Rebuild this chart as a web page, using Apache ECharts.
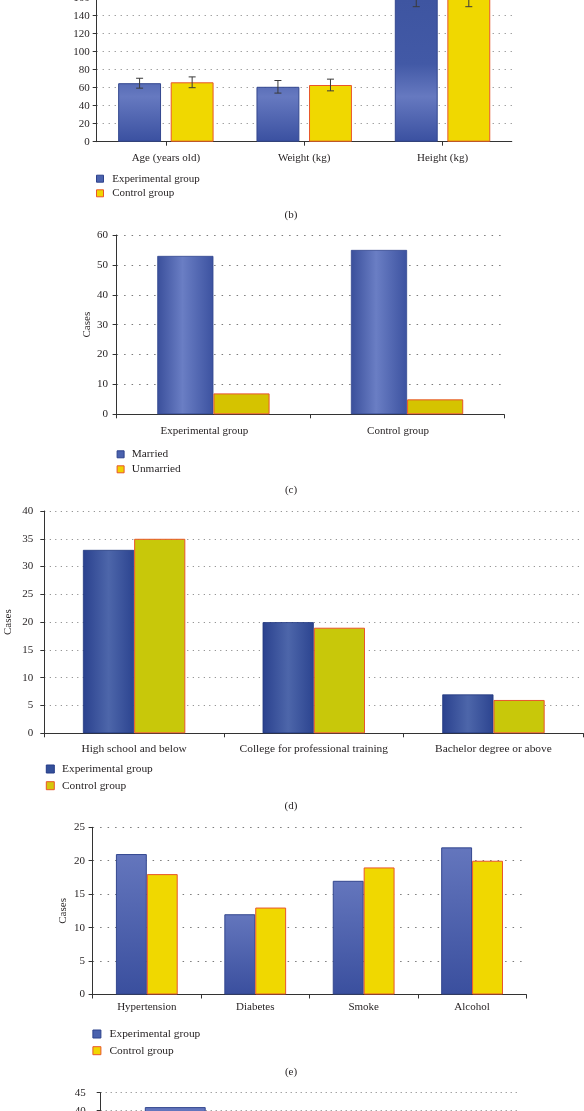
<!DOCTYPE html>
<html><head><meta charset="utf-8">
<script src="https://cdn.jsdelivr.net/npm/echarts@6/dist/echarts.min.js"></script>
<style>html,body{margin:0;padding:0;background:#fff}#c{width:584px;height:1111px}</style>
</head><body><div id="c"></div>
<script>
// ---- Panel (b) ----
const bCategories = ['Age (years old)', 'Weight (kg)', 'Height (kg)'];
const bExpMean = [65, 61, 162];
const bExpSD = [5.5, 7, 12];
const bCtrlMean = [66, 63, 163];
const bCtrlSD = [6, 6.5, 13];
const bYAxis = [0, 180, 20];
// ---- Panel (c) ----
const cCategories = ['Experimental group', 'Control group'];
const cMarried = [53, 55];
const cUnmarried = [7, 5];
const cYAxis = [0, 60, 10];
// ---- Panel (d) ----
const dCategories = ['High school and below', 'College for professional training', 'Bachelor degree or above'];
const dExp = [33, 20, 7];
const dCtrl = [35, 19, 6];
const dYAxis = [0, 40, 5];
// ---- Panel (e) ----
const eCategories = ['Hypertension', 'Diabetes', 'Smoke', 'Alcohol'];
const eExp = [21, 12, 17, 22];
const eCtrl = [18, 13, 19, 20];
const eYAxis = [0, 25, 5];
// ---- Panel (f) (only the top is visible) ----
const fCategories = ['', ''];
const fFirst = [41, '-'];
const fSecond = ['-', '-'];
const fYAxis = [0, 45, 5];

const panelLabels = ['(b)', '(c)', '(d)', '(e)'];

const FONT = 'Liberation Serif';
const TXT = '#231f20';
const AX = '#333333';
const RED = '#e8562a';
const G = echarts.graphic.LinearGradient;

function yAx(gi, rng, margin, dash, name, nameGap) {
  return {
    type: 'value', gridIndex: gi, min: rng[0], max: rng[1], interval: rng[2],
    axisLine: {show: true, lineStyle: {color: AX, width: 1}},
    axisTick: {show: true, length: 4, lineStyle: {color: AX}},
    axisLabel: {margin: margin, color: TXT, fontFamily: FONT, fontSize: 11},
    splitLine: {show: true, lineStyle: {color: '#7a7a7a', type: dash, width: 1}},
    name: name || '', nameLocation: 'middle', nameGap: nameGap || 0, nameRotate: 90,
    nameMoveOverlap: false,
    nameTextStyle: {color: TXT, fontFamily: FONT, fontSize: 11}
  };
}
function xAx(gi, data, align, margin, fs, pad) {
  return {
    type: 'category', gridIndex: gi, data: data,
    axisLine: {show: true, lineStyle: {color: AX, width: 1.2}},
    axisTick: {show: true, alignWithLabel: align, length: 4, lineStyle: {color: AX}},
    axisLabel: {margin: margin, color: TXT, fontFamily: FONT, fontSize: fs, interval: 0, padding: pad || 0},
    splitLine: {show: false}
  };
}
function legend(left, top, icon, gap, pad, fs, items) {
  return {
    orient: 'vertical', left: left, top: top, itemWidth: icon, itemHeight: icon, itemGap: gap,
    icon: 'rect', selectedMode: false, padding: 0,
    textStyle: {fontFamily: FONT, fontSize: fs, color: TXT, lineHeight: 12, padding: [0, 0, 0, pad]},
    data: items
  };
}
function errRender(side) {
  return function (params, api) {
    const i = api.value(0);
    const pLo = api.coord([i, api.value(1)]);
    const pHi = api.coord([i, api.value(2)]);
    const band = api.size([1, 0])[0];
    const group = band * (1 - 0.31);
    const bw = group / (2 + 0.225);
    const x = pLo[0] + side * (bw * 1.225) / 2;
    const cap = 3.5;
    const st = {stroke: '#3a3a3a', lineWidth: 1};
    return {type: 'group', children: [
      {type: 'line', shape: {x1: x, y1: pLo[1], x2: x, y2: pHi[1]}, style: st},
      {type: 'line', shape: {x1: x - cap, y1: pLo[1], x2: x + cap, y2: pLo[1]}, style: st},
      {type: 'line', shape: {x1: x - cap, y1: pHi[1], x2: x + cap, y2: pHi[1]}, style: st}
    ]};
  };
}

const blueB = new G(0, 0, 0, 142, [
  {offset: 0, color: '#3e55a1'}, {offset: 0.45, color: '#4259a6'},
  {offset: 0.68, color: '#6679c0'}, {offset: 1, color: '#3a50a0'}], true);
const blueC = new G(0, 0, 1, 0, [
  {offset: 0, color: '#3a4f9b'}, {offset: 0.45, color: '#6a7ec4'}, {offset: 1, color: '#3c52a0'}]);
const blueD = new G(0, 0, 1, 0, [
  {offset: 0, color: '#2a418e'}, {offset: 0.5, color: '#4d66aa'}, {offset: 1, color: '#2c4490'}]);
const blueE = new G(0, 0, 0, 1, [
  {offset: 0, color: '#6476bd'}, {offset: 1, color: '#3a4f9e'}]);

const legBlue = {color: '#4a62ae', borderColor: '#2d428c', borderWidth: 1};
const legYellow = {color: '#f0d600', borderColor: RED, borderWidth: 1};

const gridBase = {outerBoundsMode: 'none', containLabel: false};
const option = {
  backgroundColor: '#ffffff',
  animation: false,
  grid: [
    Object.assign({left: 96.7, top: -20.3, width: 415, height: 162}, gridBase),
    Object.assign({left: 116.6, top: 235, width: 387.3, height: 179.3}, gridBase),
    Object.assign({left: 44.3, top: 511, width: 539, height: 222.3}, gridBase),
    Object.assign({left: 92.6, top: 827.3, width: 433.7, height: 167.2}, gridBase),
    Object.assign({left: 100.7, top: 1092.7, width: 420, height: 162}, gridBase)
  ],
  xAxis: [
    xAx(0, bCategories, true, 10.5, 11),
    xAx(1, cCategories, false, 11, 11, [0, 18, 0, 0]),
    xAx(2, dCategories, false, 10, 11.4),
    xAx(3, eCategories, false, 7, 11),
    Object.assign(xAx(4, fCategories, false, 8, 11), {axisLabel: {show: false}})
  ],
  yAxis: [
    yAx(0, bYAxis, 7, [1, 5]),
    yAx(1, cYAxis, 8.5, [1.5, 6], 'Cases', 24),
    yAx(2, dYAxis, 11, [1, 4.5], 'Cases', 31),
    yAx(3, eYAxis, 7.5, [1.5, 6], 'Cases', 23.5),
    yAx(4, fYAxis, 15, [1, 4])
  ],
  legend: [
    legend(96, 172.7, 7, 2.6, 3.7, 11, [
      {name: 'Experimental group', itemStyle: legBlue},
      {name: 'Control group', itemStyle: legYellow}]),
    legend(116.6, 448.3, 7, 3, 2.7, 11.3, [
      {name: 'Married', itemStyle: legBlue},
      {name: 'Unmarried', itemStyle: {color: '#efd200', borderColor: RED, borderWidth: 1}}]),
    legend(45.8, 763, 8, 4.7, 2.7, 11.4, [
      {name: 'Experimental group', itemStyle: {color: '#34509a', borderColor: '#243a86', borderWidth: 1}},
      {name: 'Control group', itemStyle: {color: '#d6c60c', borderColor: RED, borderWidth: 1}}]),
    legend(92.4, 1028, 8, 4.7, 3.6, 11.4, [
      {name: 'Experimental group', itemStyle: legBlue},
      {name: 'Control group', itemStyle: legYellow}])
  ],
  graphic: panelLabels.map((t, i) => ({
    type: 'text', x: 291, y: [215.3, 490.5, 806, 1071.7][i],
    style: {text: t, font: '11px "Liberation Serif"', fill: TXT, textAlign: 'center', textVerticalAlign: 'middle'}
  })),
  series: [
    // (b)
    {type: 'bar', name: 'Experimental group', xAxisIndex: 0, yAxisIndex: 0, data: bExpMean,
      barGap: '22.5%', barCategoryGap: '31%',
      itemStyle: {color: blueB, borderColor: '#33478f', borderWidth: 1}},
    {type: 'bar', name: 'Control group', xAxisIndex: 0, yAxisIndex: 0, data: bCtrlMean,
      itemStyle: {color: '#f0d800', borderColor: RED, borderWidth: 1}},
    {type: 'custom', xAxisIndex: 0, yAxisIndex: 0, silent: true, z: 10, renderItem: errRender(-1),
      data: bCategories.map((c, i) => [i, bExpMean[i] - bExpSD[i], bExpMean[i] + bExpSD[i]])},
    {type: 'custom', xAxisIndex: 0, yAxisIndex: 0, silent: true, z: 10, renderItem: errRender(1),
      data: bCategories.map((c, i) => [i, bCtrlMean[i] - bCtrlSD[i], bCtrlMean[i] + bCtrlSD[i]])},
    // (c)
    {type: 'bar', name: 'Married', xAxisIndex: 1, yAxisIndex: 1, data: cMarried,
      barGap: '0%', barCategoryGap: '42%',
      itemStyle: {color: blueC, borderColor: '#33478f', borderWidth: 0.8}},
    {type: 'bar', name: 'Unmarried', xAxisIndex: 1, yAxisIndex: 1, data: cUnmarried,
      itemStyle: {color: '#d5c300', borderColor: RED, borderWidth: 1}},
    // (d)
    {type: 'bar', name: 'Experimental group', xAxisIndex: 2, yAxisIndex: 2, data: dExp,
      barGap: '0%', barCategoryGap: '43%',
      itemStyle: {color: blueD, borderColor: '#22387f', borderWidth: 0.8}},
    {type: 'bar', name: 'Control group', xAxisIndex: 2, yAxisIndex: 2, data: dCtrl,
      itemStyle: {color: '#c8c80a', borderColor: RED, borderWidth: 1}},
    // (e)
    {type: 'bar', name: 'Experimental group', xAxisIndex: 3, yAxisIndex: 3, data: eExp,
      barGap: '0%', barCategoryGap: '43%',
      itemStyle: {color: blueE, borderColor: '#33478f', borderWidth: 1}},
    {type: 'bar', name: 'Control group', xAxisIndex: 3, yAxisIndex: 3, data: eCtrl,
      itemStyle: {color: '#f0d800', borderColor: RED, borderWidth: 1}},
    // (f)
    {type: 'bar', name: 'f1', xAxisIndex: 4, yAxisIndex: 4, data: fFirst,
      barGap: '0%', barCategoryGap: '42%',
      itemStyle: {color: blueE, borderColor: '#33478f', borderWidth: 1}},
    {type: 'bar', name: 'f2', xAxisIndex: 4, yAxisIndex: 4, data: fSecond,
      itemStyle: {color: '#f0d800', borderColor: RED, borderWidth: 1}}
  ]
};
const chart = echarts.init(document.getElementById('c'), null, {renderer: 'canvas'});
chart.setOption(option);
</script></body></html>
